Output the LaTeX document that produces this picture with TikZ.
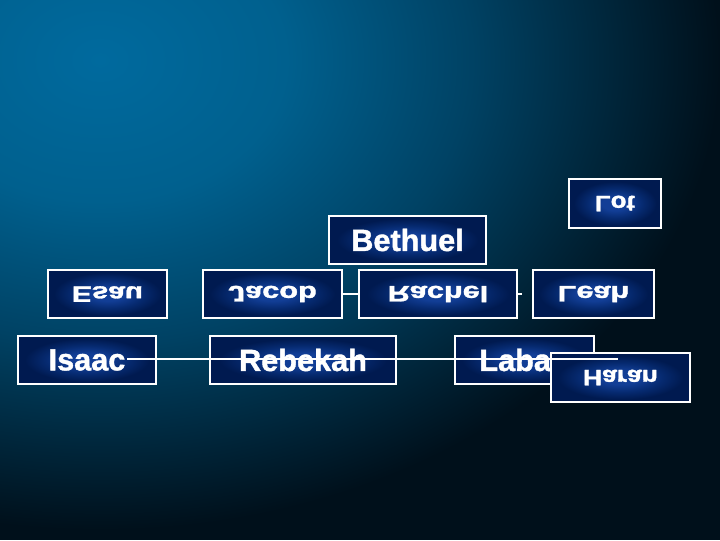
\documentclass[tikz,border=0pt]{standalone}
\usepackage{fontspec}
\usepackage{graphicx}
\newfontfamily\boxfont[BoldFeatures={FakeBold=1.3}]{Liberation Sans}
\definecolor{bgA}{RGB}{0,106,158}
\definecolor{bgB}{RGB}{0,96,142}
\definecolor{bgC}{RGB}{0,66,100}
\definecolor{bgD}{RGB}{0,36,56}
\definecolor{bgE}{RGB}{0,16,27}
\definecolor{boxIn}{RGB}{18,62,150}
\definecolor{boxMid}{RGB}{6,42,112}
\definecolor{boxOut}{RGB}{0,26,80}
\pgfdeclareradialshading{bgshade}{\pgfpoint{0bp}{0bp}}{color(0bp)=(bgA); color(7.5bp)=(bgB); color(15bp)=(bgC); color(21bp)=(bgD); color(25bp)=(bgE); color(50bp)=(bgE)}
\pgfdeclareradialshading{boxshade}{\pgfpoint{0bp}{0bp}}{color(0bp)=(boxIn); color(7bp)=(boxIn); color(15bp)=(boxMid); color(22.5bp)=(boxOut); color(50bp)=(boxOut)}
\newcommand\flipt[2]{\scalebox{#1}[-0.73]{#2}}
\tikzset{
  fam/.style={rectangle, draw=white, line width=1.5pt, shade, shading=boxshade,
    inner sep=0pt, minimum height=36pt, text=white,
    font=\boxfont\bfseries\fontsize{23}{23}\selectfont},
  link/.style={draw=white, line width=1.5pt}
}
\begin{document}
\begin{tikzpicture}[x=0.75pt,y=-0.75pt]
\useasboundingbox (0,0) rectangle (720,540);
\fill[bgE] (0,0) rectangle (720,540);
\shade[shading=bgshade] (100,60) ellipse [x radius=620, y radius=470];
% nodes
\node[fam, minimum width=89.25pt] (esau) at (107.5,294) {\flipt{0.97}{Esau}};
\node[fam, minimum width=104.25pt] (jacob) at (272.5,294) {\flipt{1.0}{Jacob}};
\node[fam, minimum width=103.5pt] (isaac) at (87,360) {Isaac};
\node[fam, minimum width=139.5pt] (rebekah) at (303,360) {Rebekah};
\node[fam, minimum width=117.75pt] (bethuel) at (407.5,240) {Bethuel};
\node[fam, minimum width=69pt, minimum height=36.75pt] (lot) at (615,203.5) {\flipt{0.84}{Lot}};
\node[fam, minimum width=118.5pt] (rachel) at (438,294) {\flipt{1.0}{Rachel}};
\node[fam, minimum width=90.75pt] (leah) at (593.5,294) {\flipt{1.0}{Leah}};
\node[fam, minimum width=104.25pt] (laban) at (524.5,360) {Laban};
\node[fam, minimum width=104.25pt, minimum height=36.75pt] (haran) at (620.5,377.5) {\flipt{0.86}{Haran}};
% connectors
\coordinate (stub) at (522,294);
\coordinate (lstart) at (127,359);
\coordinate (lend) at (618,359);
\draw[link] (jacob.east) -- (rachel.west);
\draw[link] (rachel.east) -- (stub);
\draw[link] (lstart) -- (lend);
\end{tikzpicture}
\end{document}
